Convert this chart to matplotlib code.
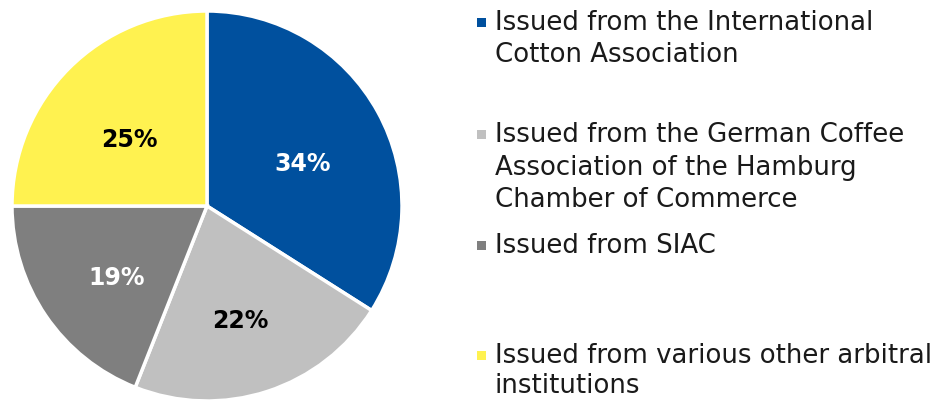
import matplotlib
matplotlib.use("Agg")
import matplotlib.pyplot as plt

categories = [
    "Issued from the International\nCotton Association",
    "Issued from the German Coffee\nAssociation of the Hamburg\nChamber of Commerce",
    "Issued from SIAC",
    "Issued from various other arbitral\ninstitutions",
]
values = [34, 22, 19, 25]
colors = ["#00509E", "#C0C0C0", "#7F7F7F", "#FFF250"]
label_colors = ["white", "black", "white", "black"]

W, H = 939, 402
fig = plt.figure(figsize=(W / 100, H / 100), dpi=100)
plt.rcParams['font.family'] = ['DejaVu Sans']

cx, cy, r = 207, 207, 195
ax = fig.add_axes([(cx - r) / W, (H - cy - r) / H, 2 * r / W, 2 * r / H])
wedges, texts, autotexts = ax.pie(
    values, colors=colors, startangle=90, counterclock=False,
    autopct=lambda p: f"{p:.0f}%", pctdistance=0.56,
    wedgeprops=dict(edgecolor="white", linewidth=2.5),
    textprops=dict(fontsize=17, fontweight="bold"), radius=1.0)
for t, c in zip(autotexts, label_colors):
    t.set_color(c)
    x, y = t.get_position()
    t.set_position((x, y - 0.05))
ax.set_xlim(-1, 1)
ax.set_ylim(-1, 1)
ax.set_aspect("equal")

# legend (manual)
line_y = [[23, 55], [135, 168, 200], [246], [356, 386]]
text_x = 495
marker_x = 482
for lab, col, ys in zip(categories, colors, line_y):
    lines = lab.split("\n")
    for ln, y in zip(lines, ys):
        fig.text(text_x / W, 1 - y / H, ln, fontsize=18.7, va="center", ha="left", color="#1a1a1a")
    fig.patches.append(plt.Rectangle(((marker_x - 4.5) / W, 1 - (ys[0] + 4.5) / H), 9 / W, 9 / H,
                                     transform=fig.transFigure, facecolor=col, edgecolor="none"))

fig.savefig("out.png", dpi=100)
